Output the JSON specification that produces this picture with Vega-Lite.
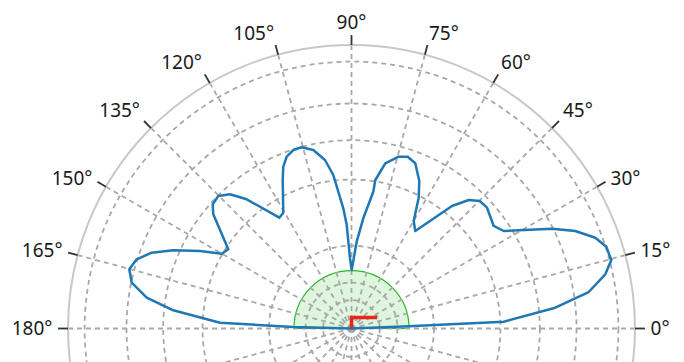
{
  "$schema": "https://vega.github.io/schema/vega-lite/v6.json",
  "width": 684,
  "height": 362,
  "padding": 0,
  "autosize": {"type": "none"},
  "background": "white",
  "config": {"view": {"stroke": null}},
  "datasets": {
    "rings": [{"r": 0.1}, {"r": 0.162}, {"r": 0.291}, {"r": 0.5256}, {"r": 0.6643}, {"r": 0.7937}, {"r": 0.9414}],
    "edge": [{"r": 1}],
    "zone": [{"r": 0.203}],
    "spokes": [
      {"deg": 0, "cx": 1, "cy": 0}, {"deg": 15, "cx": 0.9659, "cy": 0.2588}, {"deg": 30, "cx": 0.866, "cy": 0.5},
      {"deg": 45, "cx": 0.7071, "cy": 0.7071}, {"deg": 60, "cx": 0.5, "cy": 0.866}, {"deg": 75, "cx": 0.2588, "cy": 0.9659},
      {"deg": 90, "cx": 0, "cy": 1}, {"deg": 105, "cx": -0.2588, "cy": 0.9659}, {"deg": 120, "cx": -0.5, "cy": 0.866},
      {"deg": 135, "cx": -0.7071, "cy": 0.7071}, {"deg": 150, "cx": -0.866, "cy": 0.5}, {"deg": 165, "cx": -0.9659, "cy": 0.2588},
      {"deg": 180, "cx": -1, "cy": 0}, {"deg": 195, "cx": -0.9659, "cy": -0.2588}, {"deg": 210, "cx": -0.866, "cy": -0.5},
      {"deg": 225, "cx": -0.7071, "cy": -0.7071}, {"deg": 240, "cx": -0.5, "cy": -0.866}, {"deg": 255, "cx": -0.2588, "cy": -0.9659},
      {"deg": 270, "cx": 0, "cy": -1}, {"deg": 285, "cx": 0.2588, "cy": -0.9659}, {"deg": 300, "cx": 0.5, "cy": -0.866},
      {"deg": 315, "cx": 0.7071, "cy": -0.7071}, {"deg": 330, "cx": 0.866, "cy": -0.5}, {"deg": 345, "cx": 0.9659, "cy": -0.2588}
    ],
    "ticks": [
      {"deg": 0, "label": "0°", "cx": 1, "cy": 0, "tx": 1.035, "ty": 0},
      {"deg": 15, "label": "15°", "cx": 0.9659, "cy": 0.2588, "tx": 0.9997, "ty": 0.2679},
      {"deg": 30, "label": "30°", "cx": 0.866, "cy": 0.5, "tx": 0.8963, "ty": 0.5175},
      {"deg": 45, "label": "45°", "cx": 0.7071, "cy": 0.7071, "tx": 0.7319, "ty": 0.7319},
      {"deg": 60, "label": "60°", "cx": 0.5, "cy": 0.866, "tx": 0.5175, "ty": 0.8963},
      {"deg": 75, "label": "75°", "cx": 0.2588, "cy": 0.9659, "tx": 0.2679, "ty": 0.9997},
      {"deg": 90, "label": "90°", "cx": 0, "cy": 1, "tx": 0, "ty": 1.035},
      {"deg": 105, "label": "105°", "cx": -0.2588, "cy": 0.9659, "tx": -0.2679, "ty": 0.9997},
      {"deg": 120, "label": "120°", "cx": -0.5, "cy": 0.866, "tx": -0.5175, "ty": 0.8963},
      {"deg": 135, "label": "135°", "cx": -0.7071, "cy": 0.7071, "tx": -0.7319, "ty": 0.7319},
      {"deg": 150, "label": "150°", "cx": -0.866, "cy": 0.5, "tx": -0.8963, "ty": 0.5175},
      {"deg": 165, "label": "165°", "cx": -0.9659, "cy": 0.2588, "tx": -0.9997, "ty": 0.2679},
      {"deg": 180, "label": "180°", "cx": -1, "cy": 0, "tx": -1.035, "ty": 0}
    ],
    "pattern": [
      {"deg": 0, "x": 0, "y": 0},
      {"deg": 2.2, "x": 0.2018, "y": 0.0078},
      {"deg": 2.6, "x": 0.5369, "y": 0.024},
      {"deg": 5.8, "x": 0.7189, "y": 0.0734},
      {"deg": 8.7, "x": 0.8367, "y": 0.1287},
      {"deg": 12.1, "x": 0.8952, "y": 0.1912},
      {"deg": 14.8, "x": 0.9164, "y": 0.2416},
      {"deg": 17.8, "x": 0.8988, "y": 0.2885},
      {"deg": 20.4, "x": 0.86, "y": 0.3203},
      {"deg": 23.5, "x": 0.7894, "y": 0.3439},
      {"deg": 26.5, "x": 0.7072, "y": 0.352},
      {"deg": 32.6, "x": 0.5369, "y": 0.3439},
      {"deg": 35.8, "x": 0.5016, "y": 0.3616},
      {"deg": 41.7, "x": 0.478, "y": 0.4261},
      {"deg": 44.8, "x": 0.4522, "y": 0.4497},
      {"deg": 47.6, "x": 0.4134, "y": 0.4533},
      {"deg": 50.6, "x": 0.3545, "y": 0.4321},
      {"deg": 56.8, "x": 0.225, "y": 0.3439},
      {"deg": 60.0, "x": 0.2194, "y": 0.3792},
      {"deg": 62.8, "x": 0.237, "y": 0.4614},
      {"deg": 65.3, "x": 0.2392, "y": 0.5203},
      {"deg": 68.9, "x": 0.225, "y": 0.5827},
      {"deg": 71.9, "x": 0.1982, "y": 0.606},
      {"deg": 74.6, "x": 0.1665, "y": 0.606},
      {"deg": 78.4, "x": 0.1192, "y": 0.5827},
      {"deg": 80.8, "x": 0.084, "y": 0.5238},
      {"deg": 81.0, "x": 0.0769, "y": 0.4825},
      {"deg": 83.9, "x": 0.0416, "y": 0.3887},
      {"deg": 86.6, "x": 0.0183, "y": 0.3062},
      {"deg": 90.0, "x": 0.0007, "y": 0.2063},
      {"deg": 91.2, "x": -0.0053, "y": 0.2476},
      {"deg": 92.7, "x": -0.0169, "y": 0.3651},
      {"deg": 93.9, "x": -0.0289, "y": 0.424},
      {"deg": 96.8, "x": -0.0642, "y": 0.5414},
      {"deg": 98.9, "x": -0.0935, "y": 0.5944},
      {"deg": 102.1, "x": -0.1347, "y": 0.6296},
      {"deg": 105.4, "x": -0.1757, "y": 0.6392},
      {"deg": 108.1, "x": -0.2053, "y": 0.6296},
      {"deg": 110.7, "x": -0.2286, "y": 0.606},
      {"deg": 112.9, "x": -0.2406, "y": 0.5707},
      {"deg": 114.9, "x": -0.2427, "y": 0.5238},
      {"deg": 120.5, "x": -0.2406, "y": 0.4085},
      {"deg": 123.1, "x": -0.2547, "y": 0.3908},
      {"deg": 129.0, "x": -0.3697, "y": 0.4557},
      {"deg": 132.2, "x": -0.4286, "y": 0.4734},
      {"deg": 135.2, "x": -0.4698, "y": 0.4674},
      {"deg": 138.2, "x": -0.4896, "y": 0.4381},
      {"deg": 140.4, "x": -0.4875, "y": 0.4028},
      {"deg": 147.3, "x": -0.4346, "y": 0.2794},
      {"deg": 150.0, "x": -0.4578, "y": 0.2638},
      {"deg": 152.9, "x": -0.5344, "y": 0.2734},
      {"deg": 156.3, "x": -0.6286, "y": 0.2758},
      {"deg": 159.2, "x": -0.7048, "y": 0.2674},
      {"deg": 162.1, "x": -0.7577, "y": 0.2441},
      {"deg": 165.1, "x": -0.7838, "y": 0.2088},
      {"deg": 168.2, "x": -0.7753, "y": 0.1616},
      {"deg": 171.4, "x": -0.7224, "y": 0.1086},
      {"deg": 174.2, "x": -0.6286, "y": 0.0642},
      {"deg": 177.5, "x": -0.4638, "y": 0.0205},
      {"deg": 178.5, "x": -0.2053, "y": 0.0053},
      {"deg": 180, "x": 0, "y": 0}
    ],
    "marker": [
      {"step": 0, "x": 0, "y": 0},
      {"step": 1, "x": 0, "y": 0.039},
      {"step": 2, "x": 0.09, "y": 0.039}
    ]
  },
  "layer": [
    {
      "data": {"name": "zone"},
      "mark": {"type": "arc", "theta": -1.5708, "theta2": 1.5708, "fill": "#22bb22", "fillOpacity": 0.15, "stroke": "#22bb22", "strokeWidth": 1.2},
      "encoding": {
        "x": {"datum": 0, "type": "quantitative", "scale": {"domain": [-1.23986, 1.17284], "nice": false, "zero": false}, "axis": null},
        "y": {"datum": 0, "type": "quantitative", "scale": {"domain": [-0.11817, 1.15873], "nice": false, "zero": false}, "axis": null},
        "radius": {"field": "r", "type": "quantitative", "scale": {"type": "linear", "domain": [0, 1], "range": [0, 283.5], "zero": true}}
      }
    },
    {
      "data": {"name": "rings"},
      "mark": {"type": "point", "shape": "circle", "filled": false, "stroke": "#a8a8a8", "strokeWidth": 1.8, "strokeDash": [5, 4], "opacity": 1},
      "encoding": {
        "x": {"datum": 0, "type": "quantitative", "scale": {"domain": [-1.23986, 1.17284], "nice": false, "zero": false}, "axis": null},
        "y": {"datum": 0, "type": "quantitative", "scale": {"domain": [-0.11817, 1.15873], "nice": false, "zero": false}, "axis": null},
        "size": {"field": "r", "type": "quantitative", "scale": {"type": "pow", "exponent": 2, "domain": [0, 1], "range": [0, 321489], "zero": true}, "legend": null}
      }
    },
    {
      "data": {"name": "spokes"},
      "mark": {"type": "rule", "stroke": "#a8a8a8", "strokeWidth": 1.8, "strokeDash": [5, 4]},
      "encoding": {
        "x": {"field": "cx", "type": "quantitative", "scale": {"domain": [-1.23986, 1.17284], "nice": false, "zero": false}, "axis": null},
        "y": {"field": "cy", "type": "quantitative", "scale": {"domain": [-0.11817, 1.15873], "nice": false, "zero": false}, "axis": null},
        "x2": {"datum": 0},
        "y2": {"datum": 0}
      }
    },
    {
      "data": {"name": "edge"},
      "mark": {"type": "point", "shape": "circle", "filled": false, "stroke": "#c8c8c8", "strokeWidth": 2, "opacity": 1},
      "encoding": {
        "x": {"datum": 0, "type": "quantitative", "scale": {"domain": [-1.23986, 1.17284], "nice": false, "zero": false}, "axis": null},
        "y": {"datum": 0, "type": "quantitative", "scale": {"domain": [-0.11817, 1.15873], "nice": false, "zero": false}, "axis": null},
        "size": {"field": "r", "type": "quantitative", "scale": {"type": "pow", "exponent": 2, "domain": [0, 1], "range": [0, 321489], "zero": true}, "legend": null}
      }
    },
    {
      "data": {"name": "ticks"},
      "mark": {"type": "rule", "stroke": "#333333", "strokeWidth": 1.8},
      "encoding": {
        "x": {"field": "cx", "type": "quantitative", "scale": {"domain": [-1.23986, 1.17284], "nice": false, "zero": false}, "axis": null},
        "y": {"field": "cy", "type": "quantitative", "scale": {"domain": [-0.11817, 1.15873], "nice": false, "zero": false}, "axis": null},
        "x2": {"field": "tx"},
        "y2": {"field": "ty"}
      }
    },
    {
      "data": {"name": "pattern"},
      "mark": {"type": "line", "stroke": "#1f77b4", "strokeWidth": 2.5, "strokeJoin": "round"},
      "encoding": {
        "x": {"field": "x", "type": "quantitative", "scale": {"domain": [-1.23986, 1.17284], "nice": false, "zero": false}, "axis": null},
        "y": {"field": "y", "type": "quantitative", "scale": {"domain": [-0.11817, 1.15873], "nice": false, "zero": false}, "axis": null},
        "order": {"field": "deg", "type": "quantitative"}
      }
    },
    {
      "data": {"name": "marker"},
      "mark": {"type": "line", "stroke": "#e8261a", "strokeWidth": 3.5, "strokeCap": "butt"},
      "encoding": {
        "x": {"field": "x", "type": "quantitative", "scale": {"domain": [-1.23986, 1.17284], "nice": false, "zero": false}, "axis": null},
        "y": {"field": "y", "type": "quantitative", "scale": {"domain": [-0.11817, 1.15873], "nice": false, "zero": false}, "axis": null},
        "order": {"field": "step", "type": "quantitative"}
      }
    },
    {
      "data": {"name": "ticks"},
      "transform": [{"filter": "datum.deg <= 30"}],
      "mark": {"type": "text", "align": "left", "baseline": "middle", "font": "Noto Sans", "fontSize": 19, "color": "#1a1a1a"},
      "encoding": {
        "x": {"datum": 0, "type": "quantitative", "scale": {"domain": [-1.23986, 1.17284], "nice": false, "zero": false}, "axis": null},
        "y": {"datum": 0, "type": "quantitative", "scale": {"domain": [-0.11817, 1.15873], "nice": false, "zero": false}, "axis": null},
        "theta": {"field": "deg", "type": "quantitative", "scale": {"domain": [0, 360], "range": [1.5708, -4.7124]}},
        "radius": {"datum": 1.055, "type": "quantitative", "scale": {"type": "linear", "domain": [0, 1], "range": [0, 283.5], "zero": true}},
        "text": {"field": "label"}
      }
    },
    {
      "data": {"name": "ticks"},
      "transform": [{"filter": "datum.deg >= 45 && datum.deg <= 75"}],
      "mark": {"type": "text", "align": "left", "baseline": "alphabetic", "font": "Noto Sans", "fontSize": 19, "color": "#1a1a1a"},
      "encoding": {
        "x": {"datum": 0, "type": "quantitative", "scale": {"domain": [-1.23986, 1.17284], "nice": false, "zero": false}, "axis": null},
        "y": {"datum": 0, "type": "quantitative", "scale": {"domain": [-0.11817, 1.15873], "nice": false, "zero": false}, "axis": null},
        "theta": {"field": "deg", "type": "quantitative", "scale": {"domain": [0, 360], "range": [1.5708, -4.7124]}},
        "radius": {"datum": 1.055, "type": "quantitative", "scale": {"type": "linear", "domain": [0, 1], "range": [0, 283.5], "zero": true}},
        "text": {"field": "label"}
      }
    },
    {
      "data": {"name": "ticks"},
      "transform": [{"filter": "datum.deg == 90"}],
      "mark": {"type": "text", "align": "center", "baseline": "alphabetic", "font": "Noto Sans", "fontSize": 19, "color": "#1a1a1a"},
      "encoding": {
        "x": {"datum": 0, "type": "quantitative", "scale": {"domain": [-1.23986, 1.17284], "nice": false, "zero": false}, "axis": null},
        "y": {"datum": 0, "type": "quantitative", "scale": {"domain": [-0.11817, 1.15873], "nice": false, "zero": false}, "axis": null},
        "theta": {"field": "deg", "type": "quantitative", "scale": {"domain": [0, 360], "range": [1.5708, -4.7124]}},
        "radius": {"datum": 1.055, "type": "quantitative", "scale": {"type": "linear", "domain": [0, 1], "range": [0, 283.5], "zero": true}},
        "text": {"field": "label"}
      }
    },
    {
      "data": {"name": "ticks"},
      "transform": [{"filter": "datum.deg >= 105 && datum.deg <= 135"}],
      "mark": {"type": "text", "align": "right", "baseline": "alphabetic", "font": "Noto Sans", "fontSize": 19, "color": "#1a1a1a"},
      "encoding": {
        "x": {"datum": 0, "type": "quantitative", "scale": {"domain": [-1.23986, 1.17284], "nice": false, "zero": false}, "axis": null},
        "y": {"datum": 0, "type": "quantitative", "scale": {"domain": [-0.11817, 1.15873], "nice": false, "zero": false}, "axis": null},
        "theta": {"field": "deg", "type": "quantitative", "scale": {"domain": [0, 360], "range": [1.5708, -4.7124]}},
        "radius": {"datum": 1.055, "type": "quantitative", "scale": {"type": "linear", "domain": [0, 1], "range": [0, 283.5], "zero": true}},
        "text": {"field": "label"}
      }
    },
    {
      "data": {"name": "ticks"},
      "transform": [{"filter": "datum.deg >= 150"}],
      "mark": {"type": "text", "align": "right", "baseline": "middle", "font": "Noto Sans", "fontSize": 19, "color": "#1a1a1a"},
      "encoding": {
        "x": {"datum": 0, "type": "quantitative", "scale": {"domain": [-1.23986, 1.17284], "nice": false, "zero": false}, "axis": null},
        "y": {"datum": 0, "type": "quantitative", "scale": {"domain": [-0.11817, 1.15873], "nice": false, "zero": false}, "axis": null},
        "theta": {"field": "deg", "type": "quantitative", "scale": {"domain": [0, 360], "range": [1.5708, -4.7124]}},
        "radius": {"datum": 1.055, "type": "quantitative", "scale": {"type": "linear", "domain": [0, 1], "range": [0, 283.5], "zero": true}},
        "text": {"field": "label"}
      }
    }
  ]
}
